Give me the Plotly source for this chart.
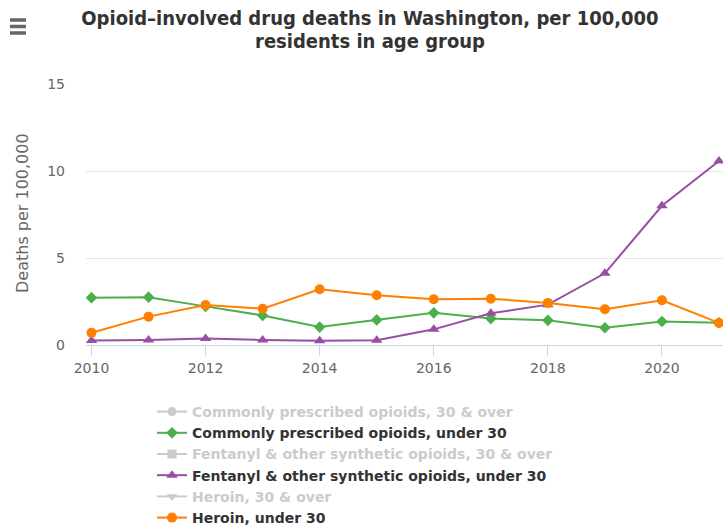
import plotly.graph_objects as go

# Data: deaths per 100,000 residents in each age group
years = [2010, 2011, 2012, 2013, 2014, 2015, 2016, 2017, 2018, 2019, 2020, 2021]
prescribed_under30 = [2.72, 2.75, 2.22, 1.70, 1.03, 1.44, 1.85, 1.52, 1.42, 0.99, 1.35, 1.28]
fentanyl_under30 = [0.26, 0.29, 0.38, 0.29, 0.25, 0.27, 0.90, 1.82, 2.32, 4.12, 8.00, 10.57]
heroin_under30 = [0.70, 1.63, 2.30, 2.09, 3.20, 2.86, 2.63, 2.66, 2.42, 2.05, 2.57, 1.27]

series_names = [
    "Commonly prescribed opioids, 30 & over",
    "Commonly prescribed opioids, under 30",
    "Fentanyl & other synthetic opioids, 30 & over",
    "Fentanyl & other synthetic opioids, under 30",
    "Heroin, 30 & over",
    "Heroin, under 30",
]
y_ticks = [0, 5, 10, 15]
x_ticks = [2010, 2012, 2014, 2016, 2018, 2020]

W, H = 723, 527
L, R, T, B = 86, 0, 84, 182
PW, PH = W - L - R, H - T - B

GREEN = "#4daf4a"
PURPLE = "#984ea3"
ORANGE = "#ff7f00"
HIDDEN = "#999999"   # rendered at half opacity for legend-only series

TITLE_FONT = dict(family="DejaVu Sans Condensed", size=20, color="#333333", weight="bold")


def px_x(px):
    return (px - L) / PW


def px_y(py):
    return (H - B - py) / PH


fig = go.Figure()


def hidden_entry(name, symbol):
    # Series switched off: only a greyed legend entry is drawn
    fig.add_trace(go.Scatter(
        x=[None], y=[None], mode="lines+markers", visible="legendonly",
        name=f'<span style="color:{HIDDEN}">{name}</span>',
        line=dict(color=HIDDEN, width=2),
        marker=dict(color=HIDDEN, symbol=symbol, size=9),
        legendgroup=name,
    ))


def shown(name, values, color, symbol, size):
    fig.add_trace(go.Scatter(
        x=years, y=values, mode="lines+markers", name=name,
        line=dict(color=color, width=2),
        marker=dict(color=color, symbol=symbol, size=size),
        cliponaxis=False, legendgroup=name,
    ))


hidden_entry(series_names[0], "circle")
shown(series_names[1], prescribed_under30, GREEN, "diamond", 9)
hidden_entry(series_names[2], "square")
shown(series_names[3], fentanyl_under30, PURPLE, "triangle-up", 10)
hidden_entry(series_names[4], "triangle-down")
shown(series_names[5], heroin_under30, ORANGE, "circle", 10)

px_per_year = 57.05
x_lo = 2010 - 5.5 / px_per_year
x_hi = 2021 + 4 / px_per_year

fig.update_layout(
    width=W, height=H,
    margin=dict(l=L, r=R, t=T, b=B, autoexpand=False),
    paper_bgcolor="white", plot_bgcolor="white",
    font=dict(family="DejaVu Sans", color="#666666"),
    showlegend=True,
    legend=dict(
        xref="container", yref="container",
        x=152 / W, y=1 - 396 / H, xanchor="left", yanchor="top",
        font=dict(family="DejaVu Sans", size=14, color="#333333", weight="bold"),
        tracegroupgap=0,
        bgcolor="rgba(0,0,0,0)",
    ),
    xaxis=dict(
        range=[x_lo, x_hi], tickvals=x_ticks, tickangle=0,
        showgrid=False, zeroline=False,
        showline=True, linecolor="#ccd6eb", linewidth=1,
        ticks="outside", ticklen=10, tickcolor="#ccd6eb",
        tickfont=dict(size=14, color="#666666"),
    ),
    yaxis=dict(
        range=[0, 15], tickvals=y_ticks,
        showgrid=True, gridcolor="#e6e6e6", zeroline=False,
        showline=False, ticks="", ticklabelstandoff=20,
        tickfont=dict(size=14, color="#666666"),
    ),
    title=dict(
        text="Opioid\u2013involved drug deaths in Washington, per 100,000",
        x=370 / W, xanchor="center", y=1 - 18 / H, yanchor="middle",
        font=TITLE_FONT,
    ),
    annotations=[
        dict(
            text="residents in age group", xref="paper", yref="paper",
            x=px_x(370), y=px_y(41),
            xanchor="center", yanchor="middle", showarrow=False,
            font=TITLE_FONT,
        ),
        dict(
            text="Deaths per 100,000", xref="paper", yref="paper",
            x=px_x(22), y=px_y(213), textangle=-90,
            xanchor="center", yanchor="middle", showarrow=False,
            font=dict(family="DejaVu Sans", size=16, color="#666666"),
        ),
    ],
)

# Export-menu icon in the top-left corner
for yy in (20, 26.5, 33):
    fig.add_shape(
        type="line", xref="paper", yref="paper",
        x0=px_x(10), x1=px_x(26), y0=px_y(yy), y1=px_y(yy),
        line=dict(color="#666666", width=3.5),
    )

fig.write_html("out.html", config={"displayModeBar": False})
